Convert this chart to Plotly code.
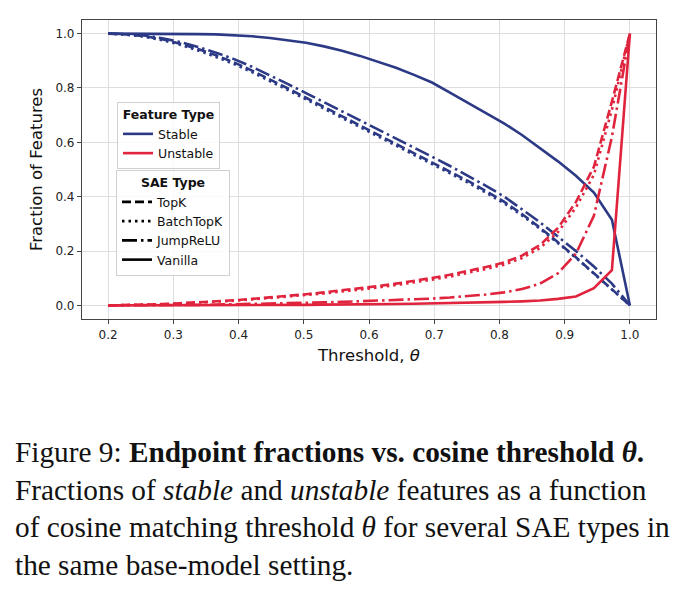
import plotly.graph_objects as go

# ---- data ----
thresholds = [0.2, 0.2276, 0.2552, 0.2828, 0.3103, 0.3379, 0.3655, 0.3931, 0.4207, 0.4483,
              0.4759, 0.5034, 0.531, 0.5586, 0.5862, 0.6138, 0.6414, 0.669, 0.6966, 0.7241,
              0.7517, 0.7793, 0.8069, 0.8345, 0.8621, 0.8897, 0.9172, 0.9448, 0.9724, 1.0]

stable_topk = [1.0, 0.997, 0.991, 0.979, 0.963, 0.943, 0.920, 0.894, 0.864, 0.832,
               0.798, 0.764, 0.730, 0.697, 0.663, 0.629, 0.596, 0.562, 0.528, 0.494,
               0.458, 0.421, 0.382, 0.336, 0.286, 0.232, 0.177, 0.118, 0.058, 0.0]
stable_batchtopk = [1.0, 0.996, 0.989, 0.976, 0.959, 0.938, 0.914, 0.888, 0.858, 0.826,
                    0.792, 0.758, 0.724, 0.690, 0.656, 0.622, 0.589, 0.555, 0.521, 0.487,
                    0.452, 0.415, 0.376, 0.331, 0.282, 0.229, 0.175, 0.117, 0.058, 0.0]
stable_jumprelu = [1.0, 0.998, 0.993, 0.983, 0.969, 0.951, 0.930, 0.906, 0.878, 0.847,
                   0.814, 0.781, 0.748, 0.715, 0.682, 0.648, 0.615, 0.581, 0.547, 0.513,
                   0.477, 0.440, 0.401, 0.355, 0.306, 0.253, 0.200, 0.143, 0.080, 0.0]
stable_vanilla = [1.0, 1.0, 1.0, 0.999, 0.999, 0.998, 0.997, 0.994, 0.990, 0.984,
                  0.976, 0.966, 0.953, 0.937, 0.918, 0.897, 0.874, 0.848, 0.820, 0.783,
                  0.746, 0.709, 0.670, 0.627, 0.580, 0.530, 0.477, 0.415, 0.315, 0.0]

unstable_topk = [0.0, 0.001, 0.003, 0.005, 0.008, 0.011, 0.015, 0.019, 0.024, 0.029,
                 0.035, 0.041, 0.048, 0.055, 0.063, 0.071, 0.080, 0.090, 0.101, 0.113,
                 0.126, 0.141, 0.158, 0.183, 0.222, 0.285, 0.380, 0.510, 0.750, 1.0]
unstable_batchtopk = [0.0, 0.001, 0.002, 0.004, 0.007, 0.010, 0.013, 0.017, 0.022, 0.027,
                      0.032, 0.038, 0.044, 0.051, 0.058, 0.066, 0.075, 0.084, 0.095, 0.106,
                      0.119, 0.134, 0.150, 0.174, 0.211, 0.270, 0.360, 0.480, 0.720, 1.0]
unstable_jumprelu = [0.0, 0.0, 0.001, 0.001, 0.002, 0.002, 0.003, 0.004, 0.005, 0.006,
                     0.008, 0.009, 0.011, 0.013, 0.015, 0.017, 0.019, 0.022, 0.025, 0.029,
                     0.034, 0.040, 0.048, 0.060, 0.080, 0.118, 0.190, 0.330, 0.620, 1.0]
unstable_vanilla = [0.0, 0.0, 0.0, 0.0, 0.0, 0.001, 0.001, 0.001, 0.001, 0.002,
                    0.002, 0.002, 0.003, 0.003, 0.004, 0.004, 0.005, 0.006, 0.007, 0.008,
                    0.009, 0.011, 0.013, 0.015, 0.018, 0.024, 0.033, 0.063, 0.130, 1.0]

sae_types = ["TopK", "BatchTopK", "JumpReLU", "Vanilla"]
feature_types = ["Stable", "Unstable"]
x_ticks = [0.2, 0.3, 0.4, 0.5, 0.6, 0.7, 0.8, 0.9, 1.0]
y_ticks = [0.0, 0.2, 0.4, 0.6, 0.8, 1.0]

caption_lines = [
    "Figure 9: <b>Endpoint fractions vs. cosine threshold <i>θ</i>.</b>",
    "Fractions of <i>stable</i> and <i>unstable</i> features as a function",
    "of cosine matching threshold <i>θ</i> for several SAE types in",
    "the same base-model setting.",
]

# ---- styles ----
BLUE = "#2c3a86"
RED = "#e0243d"
dash_styles = {"TopK": "9px,4px", "BatchTopK": "2.5px,4px",
               "JumpReLU": "15px,4px,2.5px,4px", "Vanilla": "solid"}

stable = {"TopK": stable_topk, "BatchTopK": stable_batchtopk,
          "JumpReLU": stable_jumprelu, "Vanilla": stable_vanilla}
unstable = {"TopK": unstable_topk, "BatchTopK": unstable_batchtopk,
            "JumpReLU": unstable_jumprelu, "Vanilla": unstable_vanilla}

fig = go.Figure()
for sae in sae_types:
    fig.add_trace(go.Scatter(x=thresholds, y=stable[sae], mode="lines",
                             line=dict(color=BLUE, width=2.6, dash=dash_styles[sae]),
                             showlegend=False, hoverinfo="skip"))
for sae in sae_types:
    fig.add_trace(go.Scatter(x=thresholds, y=unstable[sae], mode="lines",
                             line=dict(color=RED, width=2.6, dash=dash_styles[sae]),
                             showlegend=False, hoverinfo="skip"))

# legend entries
for name, col in zip(feature_types, [BLUE, RED]):
    fig.add_trace(go.Scatter(x=[None], y=[None], mode="lines", name=name,
                             line=dict(color=col, width=2.6), legend="legend"))
for sae in sae_types:
    fig.add_trace(go.Scatter(x=[None], y=[None], mode="lines", name=sae,
                             line=dict(color="black", width=2.6, dash=dash_styles[sae]),
                             legend="legend2"))

L, R, T, B = 82, 35, 20, 270
W, H = 691, 589
pw = W - L - R
ph = H - T - B

def px_x(px):
    return (px - L) / pw

def px_y(py):
    return (H - B - py) / ph

legend_common = dict(
    bgcolor="rgba(255,255,255,0.85)", bordercolor="#d0d0d0", borderwidth=1,
    font=dict(family="DejaVu Sans", size=12.5, color="#111"),
    xanchor="left", yanchor="top", tracegroupgap=0, itemwidth=30,
)

fig.update_layout(
    width=W, height=H,
    margin=dict(l=L, r=R, t=T, b=B),
    paper_bgcolor="white", plot_bgcolor="white",
    font=dict(family="DejaVu Sans", color="#222"),
    legend=dict(x=px_x(117), y=px_y(102),
                title=dict(text="<b>Feature Type</b>", side="top center",
                           font=dict(family="DejaVu Sans", size=12.5, color="#111")),
                **legend_common),
    legend2=dict(x=px_x(116), y=px_y(170),
                 title=dict(text="<b>SAE Type</b>", side="top center",
                            font=dict(family="DejaVu Sans", size=12.5, color="#111")),
                 **legend_common),
)

fig.update_xaxes(range=[0.16, 1.04], tickvals=x_ticks,
                 ticktext=[f"{v:.1f}" for v in x_ticks],
                 showgrid=True, gridcolor="#dedede", gridwidth=1,
                 showline=True, linecolor="#444", linewidth=1.2, mirror=True,
                 ticks="outside", ticklen=4, tickcolor="#444",
                 tickfont=dict(family="DejaVu Sans", size=12, color="#222"),
                 title=dict(text="Threshold, <i>θ</i>", standoff=8,
                            font=dict(family="DejaVu Sans", size=16.5, color="#111")),
                 zeroline=False)
fig.update_yaxes(range=[-0.05, 1.05], tickvals=y_ticks,
                 ticktext=[f"{v:.1f}" for v in y_ticks],
                 showgrid=True, gridcolor="#dedede", gridwidth=1,
                 showline=True, linecolor="#444", linewidth=1.2, mirror=True,
                 ticks="outside", ticklen=4, tickcolor="#444",
                 tickfont=dict(family="DejaVu Sans", size=12, color="#222"),
                 title=dict(text="Fraction of Features", standoff=8,
                            font=dict(family="DejaVu Sans", size=16.5, color="#111")),
                 zeroline=False)

caption_y = [452, 490, 527, 565]
for text, cy in zip(caption_lines, caption_y):
    fig.add_annotation(text=text, xref="paper", yref="paper",
                       x=px_x(14), y=px_y(cy), xanchor="left", yanchor="middle",
                       showarrow=False, align="left", borderpad=0,
                       font=dict(family="Liberation Serif", size=29.3, color="#111"))

fig.write_html("out.html")
